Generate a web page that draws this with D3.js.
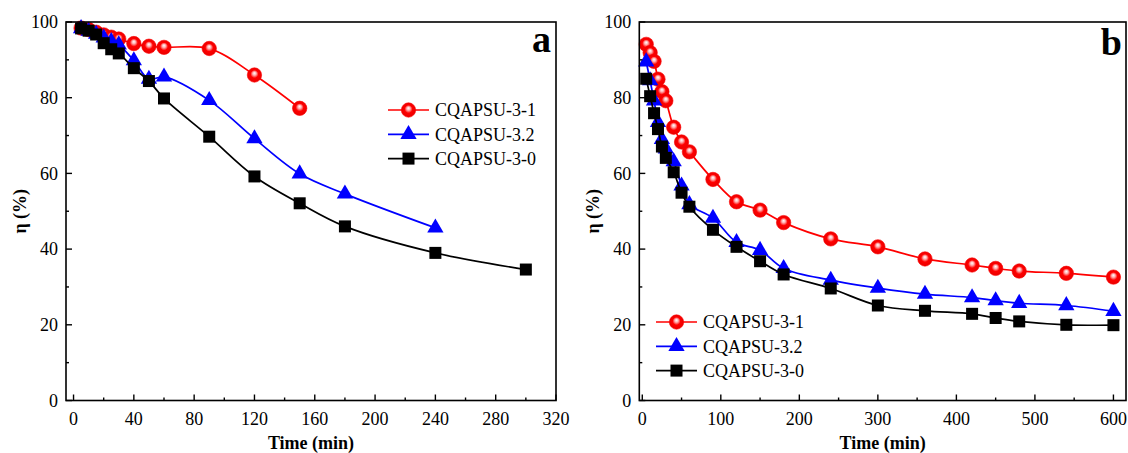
<!DOCTYPE html>
<html><head><meta charset="utf-8">
<script src="https://cdn.jsdelivr.net/npm/d3@7"></script>
<style>
body{margin:0;background:#fff;}
svg text{font-family:"Liberation Serif","Times New Roman",serif;}
</style></head>
<body><svg id="c" width="1128" height="453"></svg>
<script>
// ---------- DATA ----------
const seriesNames = ["CQAPSU-3-1", "CQAPSU-3.2", "CQAPSU-3-0"];
const seriesColors = ["#ff0000", "#0000ff", "#000000"];

// Panel a
const aTimeRed   = [5,10,15,20,25,30,40,50,60,90,120,150];
const aRed       = [98.4,98.0,97.3,96.6,96.0,95.5,94.3,93.6,93.3,93.0,86.0,77.2];
const aTimeBlue  = [5,10,15,20,25,30,40,50,60,90,120,150,180,240];
const aBlue      = [98.3,97.6,96.8,95.8,94.9,94.0,89.8,84.9,85.5,79.3,69.2,59.9,54.6,45.6];
const aTimeBlack = [5,10,15,20,25,30,40,50,60,90,120,150,180,240,300];
const aBlack     = [98.3,97.7,96.7,94.4,92.8,91.7,87.8,84.4,79.8,69.7,59.2,52.1,46.0,39.0,34.6];

// Panel b
const bTime  = [5,10,15,20,25,30,40,50,60,90,120,150,180,240,300,360,420,450,480,540,600];
const bRed   = [94.1,91.9,89.6,84.9,81.6,79.2,72.2,68.3,65.7,58.4,52.5,50.3,47.0,42.7,40.6,37.4,35.8,34.9,34.2,33.6,32.6];
const bBlue  = [89.5,84.5,79.2,73.5,69.0,66.5,63.1,56.7,51.8,48.2,41.8,39.7,34.9,31.8,29.7,28.1,27.2,26.4,25.7,25.1,23.6];
const bBlack = [85.0,80.4,75.9,71.7,67.1,64.1,60.3,54.9,51.2,45.1,40.6,36.8,33.3,29.6,25.1,23.7,22.9,21.8,20.9,20.0,19.9];

const aXTicks = [0,40,80,120,160,200,240,280,320];
const bXTicks = [0,100,200,300,400,500,600];
const yTicks  = [0,20,40,60,80,100];

// ---------- DRAW ----------
const svg = d3.select("#c");
const defs = svg.append("defs");
const grad = defs.append("radialGradient").attr("id","sphere")
  .attr("cx","50%").attr("cy","50%").attr("r","50%").attr("fx","50%").attr("fy","36%");
grad.append("stop").attr("offset","0%").attr("stop-color","#ffffff");
grad.append("stop").attr("offset","25%").attr("stop-color","#ffb0b0");
grad.append("stop").attr("offset","55%").attr("stop-color","#ff0000");
grad.append("stop").attr("offset","100%").attr("stop-color","#e80000");

function marker(g, kind, x, y) {
  if (kind === 0) {
    g.append("circle").attr("cx",x).attr("cy",y).attr("r",7.2)
      .attr("fill","url(#sphere)").attr("stroke","#ff0000").attr("stroke-width",0.6);
  } else if (kind === 1) {
    g.append("path").attr("transform",`translate(${x},${y})`)
      .attr("d", d3.symbol(d3.symbolTriangle, 115)()).attr("fill","#0000ff");
  } else {
    g.append("rect").attr("x",x-6).attr("y",y-6).attr("width",12).attr("height",12).attr("fill","#000");
  }
}

function panel(cfg) {
  const g = svg.append("g");
  const x = d3.scaleLinear().domain(cfg.xDomain).range([cfg.left, cfg.right]);
  const y = d3.scaleLinear().domain([0,100]).range([cfg.bottom, cfg.top]);

  cfg.series.forEach((s, i) => {
    const pts = s.t.map((t, k) => [x(t), y(s.v[k])]);
    g.append("path").attr("d", d3.line().curve(d3.curveCatmullRom.alpha(0.5))(pts))
      .attr("fill","none").attr("stroke", seriesColors[i]).attr("stroke-width",1.7);
    const mg = g.append("g");
    pts.forEach(p => marker(mg, i, p[0], p[1]));
  });

  g.append("rect").attr("x",cfg.left).attr("y",cfg.top)
    .attr("width",cfg.right-cfg.left).attr("height",cfg.bottom-cfg.top)
    .attr("fill","none").attr("stroke","#000").attr("stroke-width",1.6);

  const xMinor = d3.range(cfg.xTicks[0], cfg.xTicks[cfg.xTicks.length-1]+0.001, cfg.xMinorStep);
  xMinor.forEach(v => {
    const major = cfg.xTicks.includes(v);
    g.append("line").attr("x1",x(v)).attr("x2",x(v))
      .attr("y1",cfg.bottom).attr("y2",cfg.bottom-(major?6:3))
      .attr("stroke","#000").attr("stroke-width",1.4);
  });
  cfg.xTicks.forEach(v => {
    g.append("text").attr("x",x(v)).attr("y",cfg.bottom+24).attr("text-anchor","middle")
      .attr("font-size",18).text(v);
  });
  d3.range(0,100.001,10).forEach(v => {
    const major = v % 20 === 0;
    g.append("line").attr("x1",cfg.left).attr("x2",cfg.left+(major?6:3))
      .attr("y1",y(v)).attr("y2",y(v)).attr("stroke","#000").attr("stroke-width",1.4);
  });
  yTicks.forEach(v => {
    g.append("text").attr("x",cfg.left-8).attr("y",y(v)).attr("dy","0.35em")
      .attr("text-anchor","end").attr("font-size",18).text(v);
  });

  g.append("text").attr("x",(cfg.left+cfg.right)/2).attr("y",cfg.bottom+48)
    .attr("text-anchor","middle").attr("font-size",18).attr("font-weight","bold").text("Time (min)");
  g.append("text").attr("transform",`translate(${cfg.left-40},${(cfg.top+cfg.bottom)/2}) rotate(-90)`)
    .attr("text-anchor","middle").attr("font-size",18).attr("font-weight","bold").text("η (%)");
  g.append("text").attr("x",cfg.labelX).attr("y",cfg.labelY).attr("text-anchor","end")
    .attr("font-size",38).attr("font-weight","bold").text(cfg.label);

  seriesNames.forEach((n, i) => {
    const yy = cfg.legY + i*24.3;
    g.append("line").attr("x1",cfg.legX).attr("x2",cfg.legX+41).attr("y1",yy).attr("y2",yy)
      .attr("stroke",seriesColors[i]).attr("stroke-width",1.7);
    marker(g, i, cfg.legX+20.5, yy);
    g.append("text").attr("x",cfg.legX+47).attr("y",yy).attr("dy","0.35em")
      .attr("font-size",18).text(n);
  });
}

panel({
  xDomain:[-5,320], left:66, right:556, top:22, bottom:400.5,
  xTicks:aXTicks, xMinorStep:20, label:"a", labelX:551, labelY:52,
  legX:388, legY:110,
  series:[{t:aTimeRed,v:aRed},{t:aTimeBlue,v:aBlue},{t:aTimeBlack,v:aBlack}]
});
panel({
  xDomain:[-3.8,616], left:639.3, right:1126, top:22, bottom:400.5,
  xTicks:bXTicks, xMinorStep:50, label:"b", labelX:1122, labelY:55,
  legX:656, legY:322,
  series:[{t:bTime,v:bRed},{t:bTime,v:bBlue},{t:bTime,v:bBlack}]
});
</script></body></html>
